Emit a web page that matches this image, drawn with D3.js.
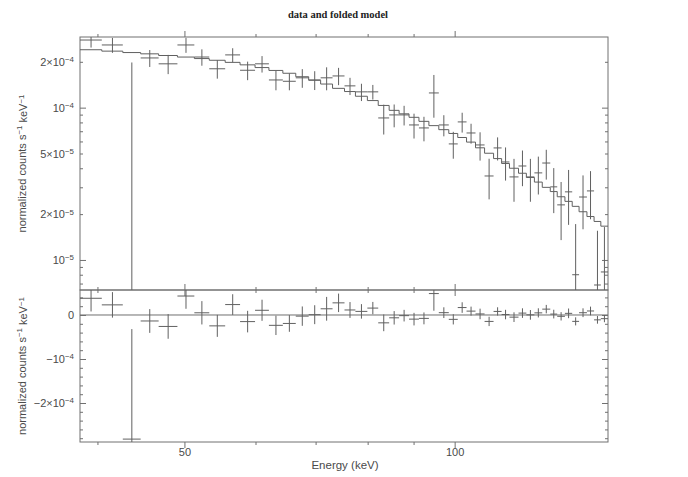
<!DOCTYPE html>
<html>
<head>
<meta charset="utf-8">
<script src="https://cdn.jsdelivr.net/npm/d3@7"></script>
<style>
body { margin: 0; background: #fff; }
svg { display: block; }
</style>
</head>
<body>
<svg width="688" height="477"></svg>
<script>
// energy bin edges (keV), 47 bins
var binEdges = [38.25, 40.45, 42.69, 44.69, 46.80, 49.11, 51.29, 53.29, 55.51, 57.67,
  59.93, 62.10, 64.36, 66.53, 68.77, 70.91, 73.11, 75.39, 77.53, 79.94,
  82.20, 84.54, 86.72, 88.96, 91.25, 93.61, 96.02, 98.51, 100.8, 103.1,
  105.5, 107.98, 110.5, 112.8, 115.1, 117.8, 120.2, 122.7, 125.2, 127.8,
  130.1, 132.7, 135.2, 137.6, 140.4, 143.0, 145.5, 148.2];

// data, in units of 1e-4 counts s-1 keV-1
var flux = [2.78, 2.58, -0.52, 2.12, 1.94, 2.58, 2.15, 1.80, 2.22, 1.76,
  1.94, 1.52, 1.49, 1.57, 1.52, 1.57, 1.615, 1.39, 1.27, 1.27,
  0.856, 0.896, 0.896, 0.770, 0.736, 1.249, 0.770, 0.578, 0.806, 0.682,
  0.569, 0.356, 0.544, 0.440, 0.351, 0.414, 0.351, 0.373, 0.433, 0.302,
  0.230, 0.280, 0.080, 0.259, 0.284, 0.0685, 0.0834];
var fluxErr = [0.30, 0.29, 2.50, 0.27, 0.28, 0.29, 0.265, 0.25, 0.235, 0.245,
  0.24, 0.22, 0.19, 0.22, 0.215, 0.27, 0.21, 0.18, 0.165, 0.14,
  0.19, 0.153, 0.132, 0.143, 0.135, 0.39, 0.122, 0.116, 0.12, 0.102,
  0.12, 0.106, 0.094, 0.108, 0.11, 0.109, 0.11, 0.104, 0.096, 0.099,
  0.095, 0.11, 0.092, 0.10, 0.099, 0.087, 0.081];
// folded model per bin, same units
var model = [2.40, 2.35, 2.30, 2.256, 2.20, 2.149, 2.10, 2.047, 1.983, 1.91,
  1.833, 1.755, 1.682, 1.596, 1.513, 1.429, 1.339, 1.276, 1.188, 1.113,
  1.034, 0.960, 0.911, 0.864, 0.813, 0.762, 0.717, 0.677, 0.637, 0.594,
  0.545, 0.502, 0.463, 0.430, 0.400, 0.371, 0.348, 0.3246, 0.2997, 0.2812,
  0.260, 0.2425, 0.2249, 0.2073, 0.1928, 0.179, 0.1667];

var xMajor = [50, 100];
var xMinor = [40, 60, 70, 80, 90];
var yTopLabels = [1e-5, 2e-5, 5e-5, 1e-4, 2e-4];
var yTopDecades = [1e-5, 1e-4];
var yTopMinor = [7e-6, 8e-6, 9e-6, 2e-5, 3e-5, 4e-5, 5e-5, 6e-5, 7e-5, 8e-5, 9e-5, 2e-4];
var yBotLabels = [-2e-4, -1e-4, 0];
var yBotMinor = [-2.8e-4, -2.6e-4, -2.4e-4, -2.2e-4, -1.8e-4, -1.6e-4, -1.4e-4, -1.2e-4,
  -0.8e-4, -0.6e-4, -0.4e-4, -0.2e-4, 0.2e-4, 0.4e-4];

var unit = 1e-4;
var rows = flux.map(function(f, i) {
  return {
    lo: binEdges[i], hi: binEdges[i + 1],
    e: (binEdges[i] + binEdges[i + 1]) / 2,
    v: f * unit, err: fluxErr[i] * unit, m: model[i] * unit,
    res: (f - model[i]) * unit
  };
});

var svg = d3.select("svg");
var L = 80, R = 608, T1 = 37, B1 = 290, B2 = 442;
var lineCol = "#707070", dataCol = "#606060", textCol = "#4a4a4a";
var font = "'Liberation Sans', Arial, sans-serif";

var x = d3.scaleLog().domain([38.25, 148.2]).range([L, R]);
var yTop = d3.scaleLog().domain([6.35e-6, 2.91e-4]).range([B1, T1]);
var yBot = d3.scaleLinear().domain([-2.886e-4, 0.568e-4]).range([B2, B1]);

function yT(v) { return v > 0 ? yTop(v) : B1 + 30; }

// clip paths
var defs = svg.append("defs");
defs.append("clipPath").attr("id", "clipTop").append("rect")
  .attr("x", L).attr("y", T1).attr("width", R - L).attr("height", B1 - T1);
defs.append("clipPath").attr("id", "clipBot").append("rect")
  .attr("x", L).attr("y", B1).attr("width", R - L).attr("height", B2 - B1);

// superscript tick labels like 2x10^-4
function sciLabel(sel) {
  sel.each(function(v) {
    var t = d3.select(this).text("");
    if (v === 0) { t.text("0"); return; }
    var e = Math.floor(Math.log10(Math.abs(v)) + 1e-9);
    var m = Math.round(Math.abs(v) / Math.pow(10, e));
    t.append("tspan").text((v < 0 ? "\u2212" : "") + (m === 1 ? "" : m + "\u00d7") + "10");
    t.append("tspan").attr("dy", "-0.45em").attr("font-size", "0.72em").text("\u2212" + Math.abs(e));
  });
}

function addAxis(axisFn, scale, values, size, tr, labelled, pad) {
  var ax = axisFn(scale).tickValues(values).tickSizeInner(-size).tickSizeOuter(0)
    .tickPadding(pad || 0);
  if (!labelled) ax.tickFormat("");
  var g = svg.append("g").attr("transform", tr).call(ax);
  g.select(".domain").remove();
  g.selectAll(".tick line").attr("stroke", lineCol);
  g.attr("font-family", font).attr("font-size", 11);
  g.selectAll(".tick text").attr("fill", textCol);
  return g;
}

// panel frames
[[T1, B1], [B1, B2]].forEach(function(p) {
  svg.append("rect").attr("x", L).attr("y", p[0]).attr("width", R - L).attr("height", p[1] - p[0])
    .attr("fill", "none").attr("stroke", lineCol).attr("stroke-width", 1);
});

// x ticks on every horizontal edge
[T1, B1, B2].forEach(function(yy) {
  if (yy !== T1) {
    addAxis(d3.axisBottom, x, xMajor, -6, "translate(0," + yy + ")", false);
    addAxis(d3.axisBottom, x, xMinor, -3, "translate(0," + yy + ")", false);
  }
  if (yy !== B2) {
    addAxis(d3.axisTop, x, xMajor, -6, "translate(0," + yy + ")", false);
    addAxis(d3.axisTop, x, xMinor, -3, "translate(0," + yy + ")", false);
  }
});
addAxis(d3.axisBottom, x, xMajor, 0, "translate(0," + B2 + ")", true, 6)
  .selectAll(".tick text").text(function(d) { return d; });

// top panel y ticks
addAxis(d3.axisLeft, yTop, yTopDecades, 6, "translate(" + L + ",0)", false);
addAxis(d3.axisLeft, yTop, yTopMinor, 3, "translate(" + L + ",0)", false);
addAxis(d3.axisRight, yTop, yTopDecades, 6, "translate(" + R + ",0)", false);
addAxis(d3.axisRight, yTop, yTopMinor, 3, "translate(" + R + ",0)", false);
addAxis(d3.axisLeft, yTop, yTopLabels, 0, "translate(" + L + ",0)", true, 6)
  .selectAll(".tick text").call(sciLabel);

// bottom panel y ticks
addAxis(d3.axisLeft, yBot, yBotLabels, 6, "translate(" + L + ",0)", false);
addAxis(d3.axisLeft, yBot, yBotMinor, 3, "translate(" + L + ",0)", false);
addAxis(d3.axisRight, yBot, yBotLabels, 6, "translate(" + R + ",0)", false);
addAxis(d3.axisRight, yBot, yBotMinor, 3, "translate(" + R + ",0)", false);
addAxis(d3.axisLeft, yBot, yBotLabels, 0, "translate(" + L + ",0)", true, 6)
  .selectAll(".tick text").call(sciLabel);

// top panel: data crosses + model steps
var gTop = svg.append("g").attr("clip-path", "url(#clipTop)")
  .attr("stroke", dataCol).attr("stroke-width", 1).attr("fill", "none");

gTop.selectAll(".xe").data(rows).enter().append("line")
  .attr("x1", function(d) { return x(d.lo); })
  .attr("x2", function(d) { return x(d.hi); })
  .attr("y1", function(d) { return yT(d.v); })
  .attr("y2", function(d) { return yT(d.v); });
gTop.selectAll(".ye").data(rows).enter().append("line")
  .attr("x1", function(d) { return x(d.e); })
  .attr("x2", function(d) { return x(d.e); })
  .attr("y1", function(d) { return yT(d.v + d.err); })
  .attr("y2", function(d) { return yT(d.v - d.err); });

var steps = [];
rows.forEach(function(d) { steps.push([d.lo, d.m]); steps.push([d.hi, d.m]); });
gTop.append("path")
  .attr("d", d3.line().x(function(p) { return x(p[0]); }).y(function(p) { return yTop(p[1]); })(steps));

// bottom panel: residuals
var gBot = svg.append("g").attr("clip-path", "url(#clipBot)")
  .attr("stroke", dataCol).attr("stroke-width", 1).attr("fill", "none");

gBot.append("line").attr("x1", L).attr("x2", R)
  .attr("y1", yBot(0)).attr("y2", yBot(0)).attr("stroke", lineCol);
gBot.selectAll(".xe").data(rows).enter().append("line")
  .attr("x1", function(d) { return x(d.lo); })
  .attr("x2", function(d) { return x(d.hi); })
  .attr("y1", function(d) { return yBot(d.res); })
  .attr("y2", function(d) { return yBot(d.res); });
gBot.selectAll(".ye").data(rows).enter().append("line")
  .attr("x1", function(d) { return x(d.e); })
  .attr("x2", function(d) { return x(d.e); })
  .attr("y1", function(d) { return yBot(d.res + d.err); })
  .attr("y2", function(d) { return yBot(d.res - d.err); });

// titles
svg.append("text").attr("x", 338).attr("y", 18).attr("text-anchor", "middle")
  .attr("font-family", "'Liberation Serif', 'Times New Roman', serif").attr("font-weight", "bold")
  .attr("font-size", 10.5).attr("fill", "#222").text("data and folded model");

svg.append("text").attr("x", 345).attr("y", 469).attr("text-anchor", "middle")
  .attr("font-family", font).attr("font-size", 11.5).attr("fill", textCol).text("Energy (keV)");

function yLabel(cy) {
  var t = svg.append("text").attr("transform", "translate(26," + cy + ") rotate(-90)")
    .attr("text-anchor", "middle").attr("font-family", font).attr("font-size", 11).attr("fill", textCol);
  t.append("tspan").text("normalized counts s");
  t.append("tspan").attr("dy", "-0.45em").attr("font-size", "0.72em").text("\u22121");
  t.append("tspan").attr("dy", "0.45em").text(" keV");
  t.append("tspan").attr("dy", "-0.45em").attr("font-size", "0.72em").text("\u22121");
}
yLabel((T1 + B1) / 2);
yLabel((B1 + B2) / 2);
</script>
</body>
</html>
